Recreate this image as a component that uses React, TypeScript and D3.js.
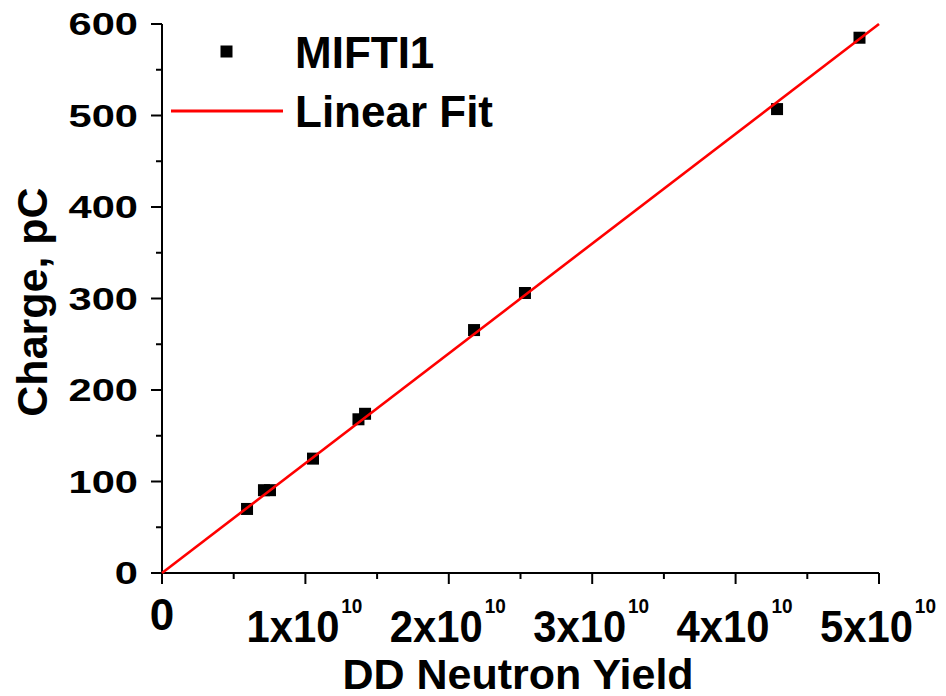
import React from "react";
import * as d3 from "d3";

// ---- data ----
const neutronYield = [5.93e9, 7.11e9, 7.53e9, 1.053e10, 1.37e10, 1.416e10, 2.176e10, 2.531e10, 4.289e10, 4.864e10];
const charge = [70, 90.5, 90.5, 125, 168, 174, 265.5, 306, 507, 585];
const fitIntercept = 0;
const fitSlope = 1.2e-8;
const fitRange = [0, 5e10];
const xTickValues = [0, 1e10, 2e10, 3e10, 4e10, 5e10];
const xTickMantissa = ["0", "1", "2", "3", "4", "5"];
const yTickValues = [0, 100, 200, 300, 400, 500, 600];
const seriesName = "MIFTI1";
const fitName = "Linear Fit";
const xTitle = "DD Neutron Yield";
const yTitle = "Charge, pC";

const W = 946;
const H = 696;
const FONT = "'Liberation Sans', Arial, sans-serif";

export default function App() {
  const x = d3.scaleLinear().domain([0, 5e10]).range([162, 879]);
  const y = d3.scaleLinear().domain([0, 600]).range([573, 24]);
  const xMinor = d3.range(0.5e10, 5e10, 1e10);
  const yMinor = d3.range(50, 600, 100);
  const line = d3
    .line<number>()
    .x((v) => x(v))
    .y((v) => y(fitIntercept + fitSlope * v));
  const ms = 12;

  return (
    <svg width={W} height={H} style={{ position: "absolute", left: 0, top: 0, background: "#fff" }} fontFamily={FONT} fontWeight="bold">
      {/* axes */}
      <g stroke="#000" strokeWidth={2} fill="none">
        <line x1={x(0)} x2={x(5e10)} y1={y(0)} y2={y(0)} />
        <line x1={x(0)} x2={x(0)} y1={y(0)} y2={y(600)} />
        {xTickValues.map((v) => (
          <line key={"xt" + v} x1={x(v)} x2={x(v)} y1={y(0)} y2={y(0) + 11} />
        ))}
        {xMinor.map((v) => (
          <line key={"xm" + v} x1={x(v)} x2={x(v)} y1={y(0)} y2={y(0) + 6} />
        ))}
        {yTickValues.map((v) => (
          <line key={"yt" + v} x1={x(0) - 11} x2={x(0)} y1={y(v)} y2={y(v)} />
        ))}
        {yMinor.map((v) => (
          <line key={"ym" + v} x1={x(0) - 6} x2={x(0)} y1={y(v)} y2={y(v)} />
        ))}
      </g>

      {/* y tick labels (wide) */}
      {yTickValues.map((v) => (
        <g key={"yl" + v} transform={`translate(138,${y(v) + 11}) scale(1.3,1)`}>
          <text x={0} y={0} fontSize={32} textAnchor="end" fill="#000">
            {v}
          </text>
        </g>
      ))}

      {/* x tick labels */}
      {xTickValues.map((v, i) =>
        v === 0 ? (
          <text key={"xl" + v} x={x(v)} y={630} fontSize={44} textAnchor="middle" fill="#000">
            {xTickMantissa[i]}
          </text>
        ) : (
          <g key={"xl" + v} transform={`translate(${x(v) - 1},642) scale(0.95,1)`}>
            <text x={0} y={0} fontSize={44} textAnchor="middle" fill="#000">
              {xTickMantissa[i] + "x10"}
              <tspan dx={2} dy={-29} fontSize={20}>
                10
              </tspan>
            </text>
          </g>
        )
      )}

      {/* axis titles */}
      <text x={518} y={689} fontSize={43} textAnchor="middle" fill="#000">
        {xTitle}
      </text>
      <text transform={`translate(47,302) rotate(-90)`} fontSize={43} textAnchor="middle" fill="#000">
        {yTitle}
      </text>

      {/* data points */}
      {neutronYield.map((v, i) => (
        <rect key={"p" + i} x={x(v) - ms / 2} y={y(charge[i]) - ms / 2} width={ms} height={ms} fill="#000" />
      ))}

      {/* fit line */}
      <path d={line(fitRange) || ""} stroke="#ff0000" strokeWidth={2.6} fill="none" />

      {/* legend */}
      <rect x={226.5 - ms / 2} y={51.5 - ms / 2} width={ms} height={ms} fill="#000" />
      <text x={295} y={68} fontSize={44} fill="#000">
        {seriesName}
      </text>
      <line x1={171} x2={283} y1={111} y2={111} stroke="#ff0000" strokeWidth={2.8} />
      <text x={295} y={127} fontSize={44} fill="#000">
        {fitName}
      </text>
    </svg>
  );
}
